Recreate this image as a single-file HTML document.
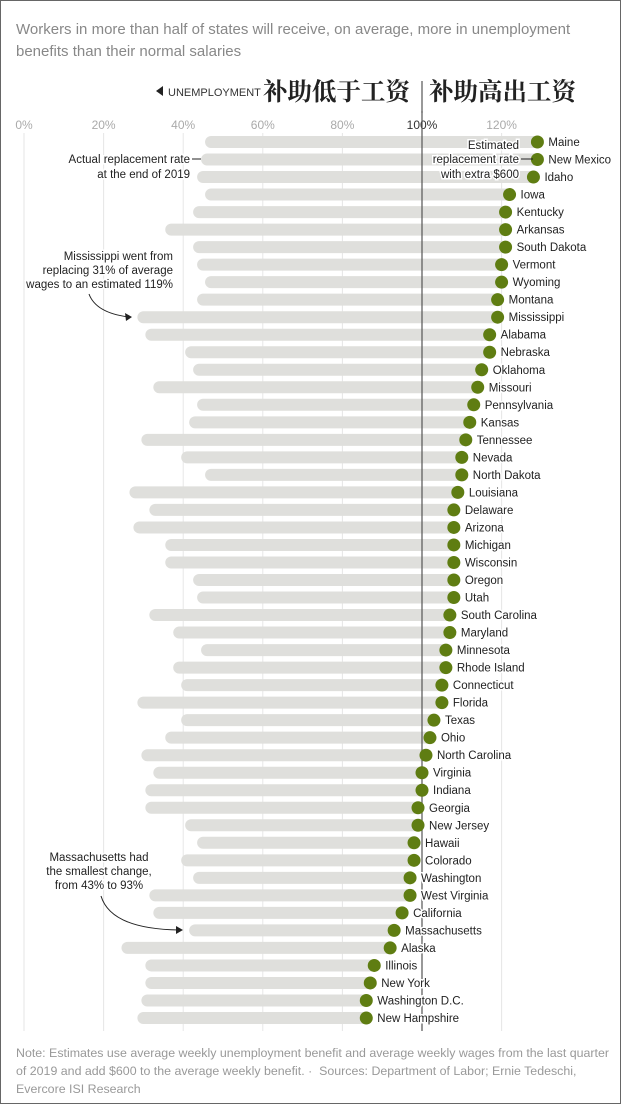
<!DOCTYPE html>
<html><head><meta charset="utf-8"><style>
body{margin:0;background:#fff;width:621px;height:1104px;overflow:hidden;font-family:"Liberation Sans",sans-serif}
#wrap{position:absolute;left:0;top:0;width:619px;height:1102px;border:1px solid #666}
.t{position:absolute;left:15px;top:18px;width:600px;font-size:15px;line-height:22px;color:#888}
.note{position:absolute;left:15px;top:1043px;width:600px;font-size:12.4px;line-height:18px;color:#999}
</style></head><body>
<div id="wrap">
<div class="t">Workers in more than half of states will receive, on average, more in unemployment benefits than their normal salaries</div>
<svg id="c" width="621" height="1104" style="position:absolute;left:0;top:0"></svg>
<div class="note">Note: Estimates use average weekly unemployment benefit and average weekly wages from the last quarter of 2019 and add $600 to the average weekly benefit. · &nbsp;Sources: Department of Labor; Ernie Tedeschi, Evercore ISI Research</div>
</div>
<script>
const states=["Maine","New Mexico","Idaho","Iowa","Kentucky","Arkansas","South Dakota","Vermont","Wyoming","Montana","Mississippi","Alabama","Nebraska","Oklahoma","Missouri","Pennsylvania","Kansas","Tennessee","Nevada","North Dakota","Louisiana","Delaware","Arizona","Michigan","Wisconsin","Oregon","Utah","South Carolina","Maryland","Minnesota","Rhode Island","Connecticut","Florida","Texas","Ohio","North Carolina","Virginia","Indiana","Georgia","New Jersey","Hawaii","Colorado","Washington","West Virginia","California","Massachusetts","Alaska","Illinois","New York","Washington D.C.","New Hampshire"];
const actual=[47,46,45,47,44,37,44,45,47,45,30,32,42,44,34,45,43,31,41,47,28,33,29,37,37,44,45,33,39,46,39,41,30,41,37,31,34,32,32,42,45,41,44,33,34,43,26,32,32,31,30];
const estimated=[129,129,128,122,121,121,121,120,120,119,119,117,117,115,114,113,112,111,110,110,109,108,108,108,108,108,108,107,107,106,106,105,105,103,102,101,100,100,99,99,98,98,97,97,95,93,92,88,87,86,86];
const ticks=[0,20,40,60,80,100,120];
const NS="http://www.w3.org/2000/svg",svg=document.getElementById('c');
const x=v=>23+v*3.98, y=i=>141+i*17.52;
function mk(t,a,p){const e=document.createElementNS(NS,t);for(const k in a)e.setAttribute(k,a[k]);(p||svg).appendChild(e);return e;}
ticks.forEach(t=>{
 if(t!=100){
 const l=mk('line',{x1:x(t),x2:x(t),y1:132,y2:1030,stroke:'#e6e6e6','stroke-width':1});
 
 }
 const tx=mk('text',{x:x(t),y:128,'text-anchor':'middle','font-size':12,fill:t==100?'#333':'#aaa'});
 tx.textContent=t+'%';
 
 
});
states.forEach((s,i)=>{
 const b=mk('line',{x1:x(actual[i]),x2:x(estimated[i]),y1:y(i),y2:y(i),stroke:'#dfdfdc','stroke-width':12,'stroke-linecap':'round'});
 
 
});
const ax=mk('line',{x1:x(100),x2:x(100),y1:80,y2:1030,stroke:'#555','stroke-width':1.2});


states.forEach((s,i)=>{
 const d=mk('circle',{cx:x(estimated[i]),cy:y(i),r:6.5,fill:'#5f7d12'});
 
 
 const t=mk('text',{x:x(estimated[i])+11,y:y(i)+4,'font-size':11.5,fill:'#222',stroke:'#fff','stroke-width':3,'paint-order':'stroke'});
 t.textContent=s;
 
 
});
svg.insertAdjacentHTML('beforeend',`
<g>
<rect x="412" y="76" width="18" height="34" fill="#fff"/>
<line x1="421" x2="421" y1="80" y2="112" stroke="#555" stroke-width="1.2"/>
<polygon points="162,85 155,90 162,95" fill="#222"/>
<text x="167" y="95" font-size="11" fill="#333">UNEMPLOYMENT</text>
<text x="262" y="99" font-size="24.5" font-weight="bold" fill="#222" font-family="'Noto Serif CJK SC',serif">补助低于工资</text>
<text x="428" y="99" font-size="24.5" font-weight="bold" fill="#222" font-family="'Noto Serif CJK SC',serif">补助高出工资</text>
</g>
<g font-size="11.5" fill="#222" stroke="#fff" stroke-width="3" paint-order="stroke">
<text x="189" y="162" text-anchor="end">Actual replacement rate</text>
<text x="189" y="177" text-anchor="end">at the end of 2019</text>
<line x1="191" x2="200" y1="158" y2="158" stroke="#222" stroke-width="1"/>
<text x="518" y="148" text-anchor="end">Estimated</text>
<text x="518" y="162" text-anchor="end">replacement rate</text>
<text x="518" y="177" text-anchor="end">with extra $600</text>
<line x1="520" x2="532" y1="158" y2="158" stroke="#222" stroke-width="1"/>
<text x="172" y="259" text-anchor="end">Mississippi went from</text>
<text x="172" y="273" text-anchor="end">replacing 31% of average</text>
<text x="172" y="287" text-anchor="end">wages to an estimated 119%</text>
<path d="M88,293 Q95,312 128,316" fill="none" stroke="#222" stroke-width="1"/>
<polygon points="131,316 124,312 125,320" fill="#222" stroke="none"/>
<text x="98" y="860" text-anchor="middle">Massachusetts had</text>
<text x="98" y="874" text-anchor="middle">the smallest change,</text>
<text x="98" y="888" text-anchor="middle">from 43% to 93%</text>
<path d="M100,895 Q110,928 178,929" fill="none" stroke="#222" stroke-width="1"/>
<polygon points="182,929 175,925 175,933" fill="#222" stroke="none"/>
</g>`);
</script>
</body></html>
